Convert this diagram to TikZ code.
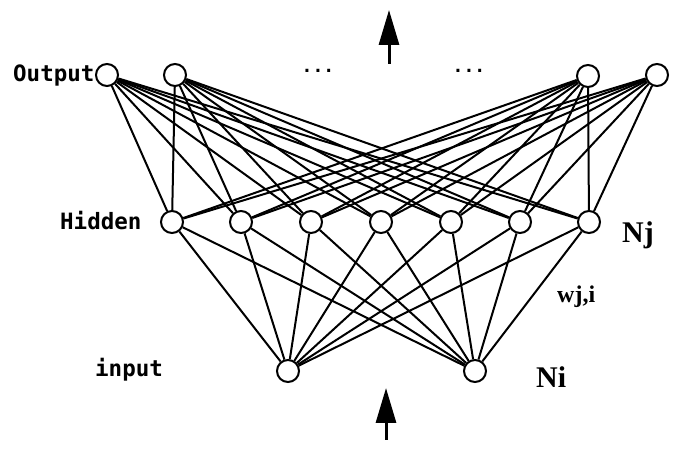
\documentclass[tikz,border=0pt]{standalone}
\usepackage{fontspec}
\usetikzlibrary{arrows.meta}
\newfontfamily\labelmono{DejaVu Sans Mono}
\newfontfamily\labelserif{Liberation Serif}
\pgfdeclarelayer{backdrop}
\pgfdeclarelayer{links}
\pgfsetlayers{backdrop,links,main}

\begin{document}
\begin{tikzpicture}[x=1pt,y=-1pt,
  neuron/.style={circle,draw=black,line width=2pt,fill=white,minimum size=22pt,inner sep=0pt},
  link/.style={line width=2pt,black},
  layername/.style={anchor=base west,inner sep=0pt,font=\labelmono\bfseries\fontsize{22.5}{22.5}\selectfont},
  symname/.style={anchor=base west,inner sep=0pt,font=\labelserif\bfseries\fontsize{30}{30}\selectfont},
  weightname/.style={anchor=base west,inner sep=0pt,font=\labelserif\bfseries\fontsize{24}{24}\selectfont},
  ellipsis/.style={inner sep=0pt,font=\labelmono\bfseries\fontsize{18}{18}\selectfont},
  flow/.style={line width=3pt,-{Triangle[length=35pt,width=20pt]}}]

\begin{pgfonlayer}{backdrop}
\fill[white] (0,0) rectangle (678,454);
\end{pgfonlayer}
\useasboundingbox (0,0) rectangle (678,454);

% output layer
\node[neuron] (o1) at (107,75) {};
\node[neuron] (o2) at (175,75) {};
\node[neuron] (o3) at (588,76) {};
\node[neuron] (o4) at (657,75) {};
\node[ellipsis] (dotsA) at (318,71) {...};
\node[ellipsis] (dotsB) at (469,71) {...};

% hidden layer
\foreach \i/\x in {1/172,2/241,3/311,4/381,5/451,6/520,7/589}
  \node[neuron] (h\i) at (\x,222) {};

% input layer
\node[neuron] (i1) at (288,371) {};
\node[neuron] (i2) at (475,371) {};

% fully connected links, kept behind the neurons
\begin{pgfonlayer}{links}
\foreach \o in {o1,o2,o3,o4}
  \foreach \h in {1,...,7}
    \draw[link] (\o) -- (h\h);
\foreach \n in {i1,i2}
  \foreach \h in {1,...,7}
    \draw[link] (\n) -- (h\h);
\end{pgfonlayer}

% labels
\node[layername] (lout) at (13,82) {Output};
\node[layername] (lhid) at (60,230) {Hidden};
\node[layername] (lin) at (95,377) {input};
\node[symname] (nj) at (622,243) {Nj};
\node[weightname] (wji) at (557,303) {wj,i};
\node[symname] (ni) at (536,388) {Ni};

% signal direction
\coordinate (topTail) at (389,64);
\coordinate (topTip) at (389,10);
\coordinate (botTail) at (386,440);
\coordinate (botTip) at (386,388);
\draw[flow] (topTail) -- (topTip);
\draw[flow] (botTail) -- (botTip);
\end{tikzpicture}
\end{document}
